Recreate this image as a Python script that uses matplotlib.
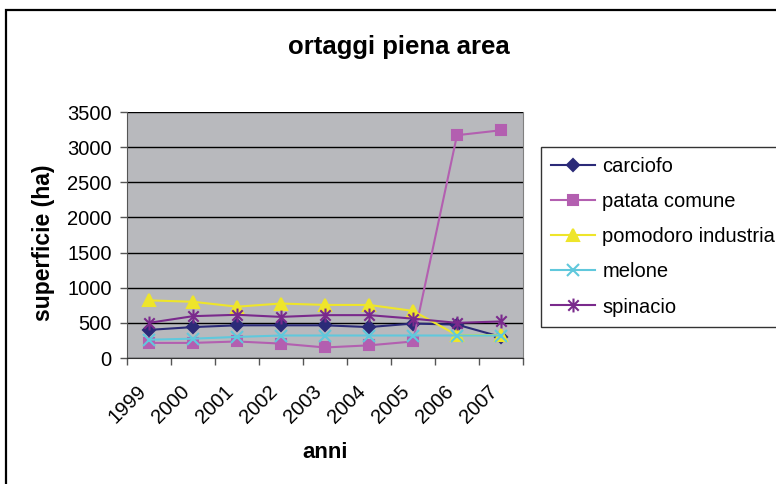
import matplotlib
matplotlib.use("Agg")
import matplotlib.pyplot as plt
import matplotlib.transforms as mtransforms
from matplotlib.patches import Rectangle
from matplotlib.path import Path

plt.rcParams['font.family'] = ['Liberation Sans', 'DejaVu Sans']

# dati
anni = ['1999', '2000', '2001', '2002', '2003', '2004', '2005', '2006', '2007']
carciofo = [400, 440, 465, 465, 465, 440, 490, 475, 300]
patata_comune = [215, 215, 235, 205, 150, 180, 235, 3170, 3240]
pomodoro_industria = [820, 800, 730, 775, 755, 755, 670, 325, 325]
melone = [260, 275, 300, 320, 320, 320, 320, 320, 320]
spinacio = [500, 595, 615, 585, 610, 610, 560, 500, 520]

nomi = ['carciofo', 'patata comune', 'pomodoro industria', 'melone', 'spinacio']
colori = ['#2b2a78', '#b35fb0', '#eee52a', '#60c8dc', '#7a2a8c']

# marker "stella" come in Excel: linea verticale + x
stella = Path([(0, -1), (0, 1), (-0.75, -0.75), (0.75, 0.75), (-0.75, 0.75), (0.75, -0.75)],
              [Path.MOVETO, Path.LINETO, Path.MOVETO, Path.LINETO, Path.MOVETO, Path.LINETO])
markers = ['D', 's', '^', 'x', stella]
msize = [6, 6.5, 8, 8, 10]

fig = plt.figure(figsize=(7.76, 4.84), dpi=100)
ax = fig.add_axes([127/776, 1-358/484, 396/776, 246/484])
ax.set_facecolor('#b8b9bd')

x = list(range(len(anni)))
serie = [carciofo, patata_comune, pomodoro_industria, melone, spinacio]
for valori, nome, col, mk, ms in zip(serie, nomi, colori, markers, msize):
    ax.plot(x, valori, color=col, lw=1.5, marker=mk, markersize=ms,
            markerfacecolor=col, markeredgecolor=col, markeredgewidth=1.5,
            label=nome, clip_on=False, zorder=3)

ax.set_xlim(-0.5, len(anni) - 0.5)
ax.set_ylim(0, 3500)
ax.set_yticks(range(0, 3501, 500))
ax.yaxis.grid(True, color='black', lw=1)
ax.set_axisbelow(True)

# tick delle categorie sui bordi, etichette al centro
ax.set_xticks(x)
ax.set_xticklabels(anni, rotation=45, ha='right', va='center', rotation_mode='anchor')
ax.set_xticks([i - 0.5 for i in range(len(anni) + 1)], minor=True)
ax.tick_params(axis='x', which='major', length=0, pad=22, labelsize=14.5)
ax.tick_params(axis='x', which='minor', length=5, width=1, color='#555555', direction='out')
ax.tick_params(axis='y', length=5, width=1, color='#555555', direction='out', pad=6, labelsize=14.5)
sposta = mtransforms.ScaledTranslation(-6/100, 0, fig.dpi_scale_trans)
for lab in ax.get_xticklabels():
    lab.set_transform(lab.get_transform() + sposta)

ax.spines['top'].set_visible(False)
ax.spines['right'].set_color('#808080')
ax.spines['left'].set_color('#555555')
ax.spines['bottom'].set_color('#333333')

# titoli
fig.text(399/776, 1-47/484, 'ortaggi piena area', ha='center', va='center',
         fontsize=18.5, fontweight='bold')
fig.text(44/776, 1-243/484, 'superficie (ha)', ha='center', va='center', rotation=90,
         fontsize=16.5, fontweight='bold')
fig.text(325/776, 1-452/484, 'anni', ha='center', va='center',
         fontsize=16, fontweight='bold')

leg = fig.legend(loc='upper left', bbox_to_anchor=(541/776, 1-147/484),
                 fontsize=14.5, frameon=True, fancybox=False, borderpad=0.5,
                 labelspacing=0.8, handlelength=2.2, handletextpad=0.35,
                 borderaxespad=0)
leg.get_frame().set_edgecolor('black')
leg.get_frame().set_linewidth(1)

# bordo del grafico
fig.add_artist(Rectangle((6/776, -0.1), 1.0, 1 - 10/484 + 0.1, transform=fig.transFigure,
                         fill=False, edgecolor='black', lw=1.6))

plt.savefig("out.png", dpi=100)
